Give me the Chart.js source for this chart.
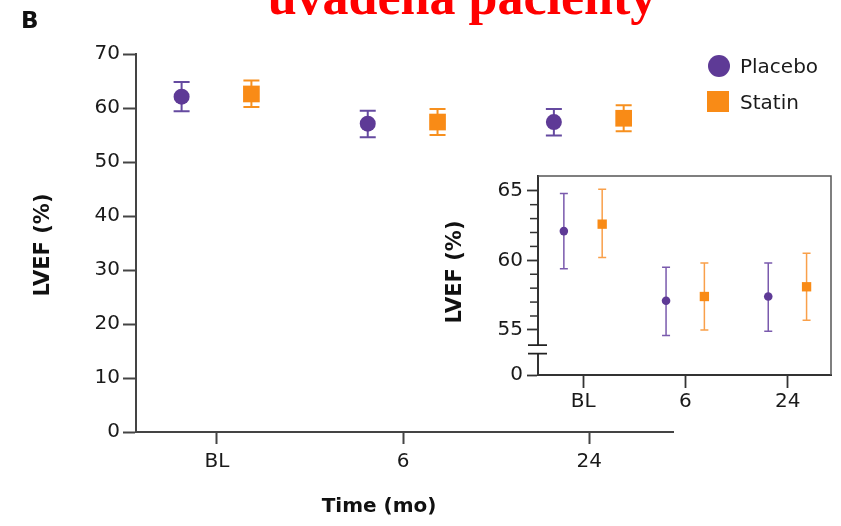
<!DOCTYPE html>
<html>
<head>
<meta charset="utf-8">
<script src="https://cdn.jsdelivr.net/npm/chart.js@4.4.1/dist/chart.umd.min.js"></script>
<style>
html, body { margin: 0; padding: 0; background: #fff; }
#wrap { position: relative; width: 841px; height: 526px; overflow: hidden; }
#main { position: absolute; left: 0; top: 0; }
#inset { position: absolute; left: 430px; top: 160px; }
.leg { position: absolute; font: 20px "DejaVu Sans"; color: #1a1a1a; line-height: 20px; }
.mark { position: absolute; }
</style>
</head>
<body>
<div id="wrap">
  <canvas id="main" width="841" height="526"></canvas>
  <canvas id="inset" width="411" height="260"></canvas>
  <div class="mark" style="left:708px;top:55px;width:22px;height:22px;border-radius:50%;background:#5e3a96;"></div>
  <div class="leg" style="left:740px;top:56px;">Placebo</div>
  <div class="mark" style="left:707px;top:91px;width:22px;height:21px;background:#f98b16;"></div>
  <div class="leg" style="left:740px;top:92px;">Statin</div>
</div>
<script>
// values (LVEF %, mean with error bar ends)
const timepoints = ['BL', '6', '24'];
const placeboMean = [62.1, 57.1, 57.4];
const placeboLow  = [59.4, 54.6, 54.9];
const placeboHigh = [64.8, 59.5, 59.8];
const statinMean  = [62.6, 57.4, 58.1];
const statinLow   = [60.2, 55.0, 55.7];
const statinHigh  = [65.1, 59.8, 60.5];
const mainYTicks  = [0, 10, 20, 30, 40, 50, 60, 70];
const insetYTicks = [55, 60, 65];
const insetMinorTicks = [56, 57, 58, 59, 61, 62, 63, 64];

const PURPLE = '#5e3a96';
const ORANGE = '#f98b16';
const tickFont = { family: 'DejaVu Sans', size: 20 };

// where the inset's broken axis puts its "0"
const insetFloor = 51.76;

function points(means, lows, highs, shift) {
    return means.map((m, i) => ({ x: i + shift, y: m, lo: lows[i], hi: highs[i] }));
}

function errorBars(capHalf, lineWidth, colors) {
    return {
        id: 'errorBars',
        beforeDatasetsDraw(chart) {
            const ctx = chart.ctx;
            const xs = chart.scales.x, ys = chart.scales.y;
            chart.data.datasets.forEach((ds, k) => {
                ctx.save();
                ctx.strokeStyle = colors[k];
                ctx.lineWidth = lineWidth;
                ds.data.forEach(p => {
                    const px = xs.getPixelForValue(p.x);
                    const top = ys.getPixelForValue(p.hi);
                    const bot = ys.getPixelForValue(p.lo);
                    ctx.beginPath();
                    ctx.moveTo(px, top); ctx.lineTo(px, bot);
                    ctx.moveTo(px - capHalf, top); ctx.lineTo(px + capHalf, top);
                    ctx.moveTo(px - capHalf, bot); ctx.lineTo(px + capHalf, bot);
                    ctx.stroke();
                });
                ctx.restore();
            });
        }
    };
}

function makeDatasets(circleR, rectR) {
    return [
        {
            label: 'Placebo',
            data: points(placeboMean, placeboLow, placeboHigh, -0.19),
            pointStyle: 'circle',
            pointRadius: circleR,
            backgroundColor: PURPLE,
            borderColor: PURPLE,
            borderWidth: 0
        },
        {
            label: 'Statin',
            data: points(statinMean, statinLow, statinHigh, 0.185),
            pointStyle: 'rect',
            pointRadius: rectR,
            backgroundColor: ORANGE,
            borderColor: ORANGE,
            borderWidth: 0
        }
    ];
}

// text around the main plot
const mainDecor = {
    id: 'mainDecor',
    afterDraw(chart) {
        const ctx = chart.ctx;
        ctx.save();
        ctx.fillStyle = '#ff0000';
        ctx.font = 'bold 52px "Liberation Serif"';
        ctx.textAlign = 'center';
        ctx.textBaseline = 'alphabetic';
        ctx.fillText('uvadena pacienty', 462, 14);

        ctx.fillStyle = '#111';
        ctx.font = 'bold 23px "DejaVu Sans"';
        ctx.textAlign = 'left';
        ctx.fillText('B', 21, 28);

        ctx.font = 'bold 20px "DejaVu Sans"';
        ctx.textAlign = 'center';
        ctx.fillText('Time (mo)', 379, 512);

        ctx.translate(44, 245);
        ctx.rotate(-Math.PI / 2);
        ctx.font = 'bold 21px "DejaVu Sans"';
        ctx.textBaseline = 'middle';
        ctx.fillText('LVEF (%)', 0, 0);
        ctx.restore();
    }
};

const mainChart = new Chart(document.getElementById('main'), {
    type: 'scatter',
    data: { datasets: makeDatasets(8, 11.8) },
    options: {
        responsive: false,
        animation: false,
        devicePixelRatio: 1,
        layout: { padding: { top: 54, right: 168, bottom: 0, left: 0 } },
        plugins: { legend: { display: false }, tooltip: { enabled: false } },
        scales: {
            x: {
                type: 'linear',
                min: -0.435,
                max: 2.45,
                afterBuildTicks: s => { s.ticks = timepoints.map((t, i) => ({ value: i })); },
                afterFit: s => { s.height = 94; },
                ticks: {
                    callback: v => timepoints[v],
                    font: tickFont, color: '#1a1a1a', padding: 6,
                    maxRotation: 0, autoSkip: false
                },
                grid: { drawOnChartArea: false, drawTicks: true, tickLength: 12, color: '#444', tickWidth: 2 },
                border: { color: '#444', width: 2 }
            },
            y: {
                min: 0,
                max: 70,
                afterBuildTicks: s => { s.ticks = mainYTicks.map(v => ({ value: v })); },
                afterFit: s => { s.width = 136; },
                ticks: { font: tickFont, color: '#1a1a1a', padding: 3 },
                grid: { drawOnChartArea: false, drawTicks: true, tickLength: 13, color: '#444', tickWidth: 2 },
                border: { color: '#444', width: 2 }
            }
        }
    },
    plugins: [errorBars(8, 2, ['#654aa0', '#f7901e']), mainDecor]
});

// frame, minor ticks, axis break and title of the inset
const insetDecor = {
    id: 'insetDecor',
    afterDraw(chart) {
        const ctx = chart.ctx;
        const a = chart.chartArea;
        const ys = chart.scales.y;
        ctx.save();
        ctx.strokeStyle = '#555';
        ctx.lineWidth = 1.5;
        ctx.beginPath();
        ctx.moveTo(a.left, a.top); ctx.lineTo(a.right, a.top); ctx.lineTo(a.right, a.bottom);
        ctx.stroke();

        ctx.strokeStyle = '#333';
        ctx.lineWidth = 1.5;
        insetMinorTicks.forEach(v => {
            const py = ys.getPixelForValue(v);
            ctx.beginPath();
            ctx.moveTo(a.left - 8, py); ctx.lineTo(a.left, py);
            ctx.stroke();
        });

        const b1 = ys.getPixelForValue(53.9);
        const b2 = ys.getPixelForValue(53.3);
        ctx.fillStyle = '#fff';
        ctx.fillRect(a.left - 3, b1, 6, b2 - b1);
        ctx.strokeStyle = '#222';
        ctx.lineWidth = 1.8;
        ctx.beginPath();
        ctx.moveTo(a.left - 10, b1); ctx.lineTo(a.left + 9, b1);
        ctx.moveTo(a.left - 10, b2); ctx.lineTo(a.left + 9, b2);
        ctx.stroke();

        ctx.fillStyle = '#111';
        ctx.translate(26, 112);
        ctx.rotate(-Math.PI / 2);
        ctx.font = 'bold 21px "DejaVu Sans"';
        ctx.textAlign = 'center';
        ctx.textBaseline = 'middle';
        ctx.fillText('LVEF (%)', 0, 0);
        ctx.restore();
    }
};

const insetChart = new Chart(document.getElementById('inset'), {
    type: 'scatter',
    data: { datasets: makeDatasets(4.3, 6.6) },
    options: {
        responsive: false,
        animation: false,
        devicePixelRatio: 1,
        layout: { padding: { top: 9, right: 10, bottom: 0, left: 0 } },
        plugins: { legend: { display: false }, tooltip: { enabled: false } },
        scales: {
            x: {
                type: 'linear',
                min: -0.443,
                max: 2.424,
                afterBuildTicks: s => { s.ticks = timepoints.map((t, i) => ({ value: i })); },
                afterFit: s => { s.height = 45; },
                ticks: {
                    callback: v => timepoints[v],
                    font: tickFont, color: '#1a1a1a', padding: 2,
                    maxRotation: 0, autoSkip: false
                },
                grid: { drawOnChartArea: false, drawTicks: true, tickLength: 13, color: '#333', tickWidth: 1.8 },
                border: { color: '#333', width: 2 }
            },
            y: {
                min: insetFloor,
                max: 66.06,
                afterBuildTicks: s => {
                    s.ticks = [{ value: insetFloor }].concat(insetYTicks.map(v => ({ value: v })));
                },
                afterFit: s => { s.width = 108; },
                ticks: {
                    callback: v => (v === insetFloor ? '0' : String(v)),
                    font: tickFont, color: '#1a1a1a', padding: 4
                },
                grid: { drawOnChartArea: false, drawTicks: true, tickLength: 11, color: '#333', tickWidth: 1.8 },
                border: { color: '#333', width: 2 }
            }
        }
    },
    plugins: [errorBars(4, 1.5, ['#7a5aad', '#f9a04a']), insetDecor]
});
</script>
</body>
</html>
